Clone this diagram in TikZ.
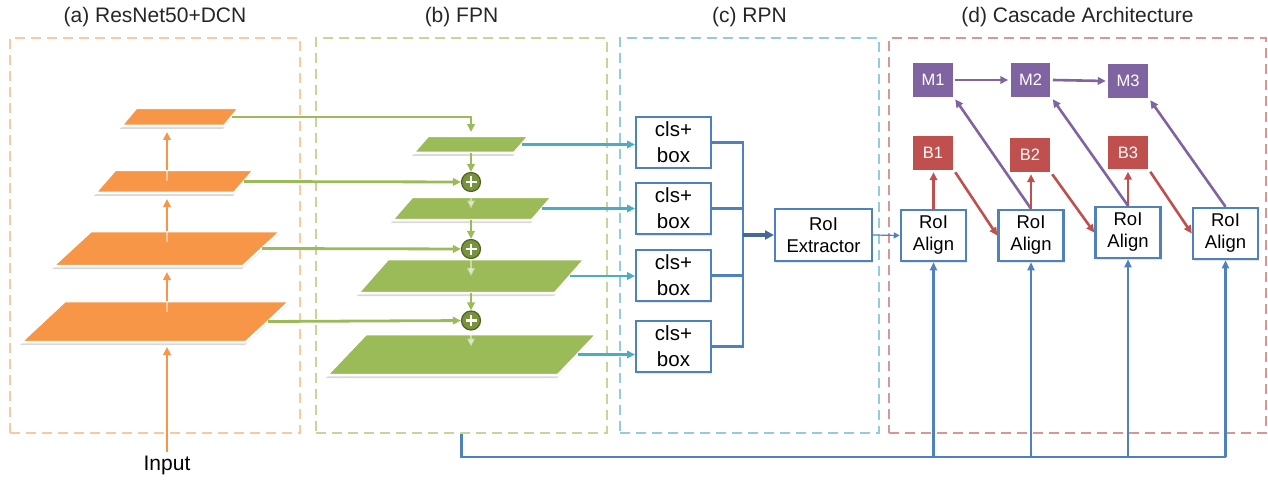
\documentclass[tikz,border=0pt]{standalone}
\usepackage{fontspec}
\setmainfont{Liberation Sans}
\usetikzlibrary{arrows.meta,shadows}

\definecolor{orangefm}{HTML}{F79646}
\definecolor{greenfm}{HTML}{9BBB59}
\definecolor{plusgreen}{HTML}{77933C}
\definecolor{plusdark}{HTML}{4F6228}
\definecolor{cyanfm}{HTML}{4BACC6}
\definecolor{boxblue}{HTML}{4F81BD}
\definecolor{busblue}{HTML}{46699B}
\definecolor{headpurple}{HTML}{8064A2}
\definecolor{headred}{HTML}{C0504D}
\definecolor{dashorange}{HTML}{F9C9A3}
\definecolor{dashgreen}{HTML}{C4D79B}
\definecolor{dashcyan}{HTML}{93CDDD}
\definecolor{dashred}{HTML}{DA9694}

\begin{document}
\begin{tikzpicture}[x=1pt, y=-1pt,
      every node/.style={font=\fontsize{18.5}{22}\selectfont},
      panel/.style={draw, dash pattern=on 10pt off 6pt, line width=1.5pt,
        minimum height=395pt, inner sep=0pt},
      title/.style={font=\fontsize{21}{25}\selectfont, text=black!85},
      fmap/.style={draw=white, line width=2.5pt, line join=miter,
        drop shadow={shadow xshift=-1pt, shadow yshift=-3pt, opacity=.3}},
      sumnode/.style={circle, fill=plusgreen, draw=plusdark, line width=1.2pt,
        minimum size=19pt, inner sep=0pt,
        path picture={\draw[white, line width=2.4pt]
          ([xshift=-5.5pt]path picture bounding box.center) --
          ([xshift=5.5pt]path picture bounding box.center)
          ([yshift=-5.5pt]path picture bounding box.center) --
          ([yshift=5.5pt]path picture bounding box.center);}},
      clsbox/.style={draw=boxblue, line width=2pt, fill=white, inner sep=0pt,
        minimum width=75pt, minimum height=51pt, align=center,
        font=\fontsize{20.5}{26}\selectfont,
        drop shadow={shadow xshift=1pt, shadow yshift=-1.5pt, opacity=.2}},
      alignbox/.style={clsbox, line width=2.5pt, minimum width=65pt,
        font=\fontsize{18.5}{22}\selectfont},
      headbox/.style={draw=white, line width=2.5pt, minimum width=42pt,
        minimum height=36pt, inner sep=0pt, text=white,
        font=\fontsize{16.5}{19}\selectfont,
        drop shadow={shadow xshift=1pt, shadow yshift=-1.5pt, opacity=.3}},
      tipped/.style={-{Triangle[length=8pt, width=7.5pt]}, line width=2.8pt},
      climb/.style={tipped, draw=orangefm, shorten >=6pt},
      lateral/.style={tipped, draw=greenfm},
      faint/.style={draw=white, opacity=.45},
      outarrow/.style={tipped, draw=cyanfm},
      busline/.style={line width=2.4pt, draw=boxblue},
      feedline/.style={line width=2.2pt, draw=boxblue},
      redarrow/.style={tipped, line width=2.6pt, draw=headred},
      purplearrow/.style={tipped, line width=2.6pt, draw=headpurple},
    ]
    \useasboundingbox (0,0) rectangle (1268,481);

    % Dashed stage frames and their titles
    \node[panel, draw=dashorange, minimum width=290pt] (pa) at (155,235.5) {};
    \node[panel, draw=dashgreen, minimum width=291pt] (pb) at (461.5,235.5) {};
    \node[panel, draw=dashcyan, minimum width=259pt] (pc) at (749.5,235.5) {};
    \node[panel, draw=dashred, minimum width=377pt] (pd) at (1077.5,235.5) {};
    \node[title] (ta) at ([yshift=20pt]pa.north) {(a) ResNet50+DCN};
    \node[title] (tb) at ([yshift=20pt]pb.north) {(b) FPN};
    \node[title] (tc) at ([yshift=20pt]pc.north) {(c) RPN};
    \node[title] (td) at ([yshift=20pt]pd.north) {(d) Cascade Architecture};

    % Feature maps: name / bottom-left x / bottom y / width / height / slant / colour
    \foreach \n/\x/\y/\w/\h/\s/\c in {
        o1/121/126/103/18/15/orangefm, o2/95/193/139/23/20/orangefm,
        o3/53/266/190/35/38/orangefm, o4/21/342/225/41/44/orangefm,
        g1/413/153/101/17/15/greenfm, g2/392/220/140/23/20/greenfm,
        g3/358/293/197/34/30/greenfm, g4/327/375/231/41/39/greenfm} {
      \fill[fmap, fill=\c] (\x,\y) -- ++(\w,0) -- ++(\s,-\h) -- ++(-\w,0) -- cycle;
      \coordinate (\n) at (\x+\w/2+\s/2, \y-\h/2);
      \coordinate (\n-e) at (\x+\w+\s/2, \y-\h/2);
      \coordinate (\n-n) at (\x+\w/2+\s, \y-\h);
      \coordinate (\n-s) at (\x+\w/2, \y);
    }

    % Backbone path
    \node[font=\fontsize{21}{25}\selectfont] (in) at (167,465) {Input};
    \draw[climb, shorten >=5pt] (in.north) -- (in |- o4-s);
    \draw[climb] (in |- o4-n) -- (in |- o3-s);
    \draw[climb] (in |- o3-n) -- (in |- o2-s);
    \draw[climb] (in |- o2-n) -- (in |- o1-s);
    \foreach \n in {o2, o3, o4}
      \draw[faint, line width=2.8pt] ([yshift=-11pt]in |- \n-n) -- (in |- \n-n);

    % Top-down pathway
    \node[sumnode] (p1) at (471,182) {};
    \node[sumnode] (p2) at (471,249) {};
    \node[sumnode] (p3) at (471,320.5) {};
    \draw[lateral] (o1-e) -| ([yshift=4pt]p1 |- g1-n);
    \draw[lateral] (o2-e) -- (p1);
    \draw[lateral] (o3-e) -- (p2);
    \draw[lateral] (o4-e) -- (p3);
    \draw[lateral] (p1 |- g1-s) -- (p1);
    \draw[lateral] (p1 |- g2-s) -- (p2);
    \draw[lateral] (p2 |- g3-s) -- (p3);
    \draw[tipped, faint] (p1) -- (p1 |- g2);
    \draw[tipped, faint] (p2) -- (p2 |- g3);
    \draw[tipped, faint] (p3) -- ([yshift=8pt]p3 |- g4);

    % Proposal heads
    \node[clsbox] (c1) at (673.5,142.5) {cls+\\box};
    \node[clsbox] (c2) at (673.5,208.5) {cls+\\box};
    \node[clsbox] (c3) at (673.5,275.5) {cls+\\box};
    \node[clsbox] (c4) at (673.5,346.5) {cls+\\box};
    \foreach \g/\b in {g1/c1, g2/c2, g3/c3, g4/c4}
      \draw[outarrow] (\g-e) -- (\g-e -| \b.west);
    \node[clsbox, minimum width=97pt, minimum height=52pt,
      font=\fontsize{18.5}{22}\selectfont] (ex) at (823.5,235) {RoI\\Extractor};
    \coordinate (join) at (743,235);
    \foreach \b in {c1, c2, c3, c4}
      \draw[busline] (\b.east) -| (join);
    \draw[-{Triangle[length=9pt, width=9pt]}, line width=3.5pt, draw=busblue] (join) -- (ex.west);

    % Cascade stages
    \node[alignbox] (a1) at (933.5,235.5) {RoI\\Align};
    \node[alignbox] (a2) at (1031,235.5) {RoI\\Align};
    \node[alignbox] (a3) at (1128,232.5) {RoI\\Align};
    \node[alignbox] (a4) at (1225.5,233.5) {RoI\\Align};
    \node[headbox, fill=headpurple] (m1) at (933,80) {M1};
    \node[headbox, fill=headpurple] (m2) at (1030.5,80) {M2};
    \node[headbox, fill=headpurple] (m3) at (1128,81) {M3};
    \node[headbox, fill=headred] (b1) at (933,153) {B1};
    \node[headbox, fill=headred] (b2) at (1030,155) {B2};
    \node[headbox, fill=headred] (b3) at (1128,152.5) {B3};
    \draw[-{Triangle[length=6pt, width=6pt]}, line width=1.2pt, draw=boxblue] (ex.east) -- (a1.west);

    \draw[purplearrow] (m1.east) -- (m2.west);
    \draw[purplearrow] (m2.east) -- (m3.west);
    \draw[purplearrow] (a2.north) -- (m1.south east);
    \draw[purplearrow] (a3.north) -- (m2.south east);
    \draw[purplearrow] (a4.north) -- (m3.south east);
    \draw[redarrow] (a1.north) -- (a1.north |- b1.south);
    \draw[redarrow] (a2.north) -- (a2.north |- b2.south);
    \draw[redarrow] (a3.north) -- (a3.north |- b3.south);
    \draw[redarrow] (b1.south east) -- (a2.west);
    \draw[redarrow] (b2.south east) -- (a3.west);
    \draw[redarrow] (b3.south east) -- (a4.west);

    % Pyramid features fed to every RoI Align
    \coordinate (low) at (461.5,457);
    \draw[feedline] (pb.south) |- (low -| a4);
    \foreach \a in {a1, a2, a3, a4}
      \draw[feedline, -{Triangle[length=8pt, width=7pt]}] (low -| \a) -- (\a.south);
  \end{tikzpicture}
\end{document}
